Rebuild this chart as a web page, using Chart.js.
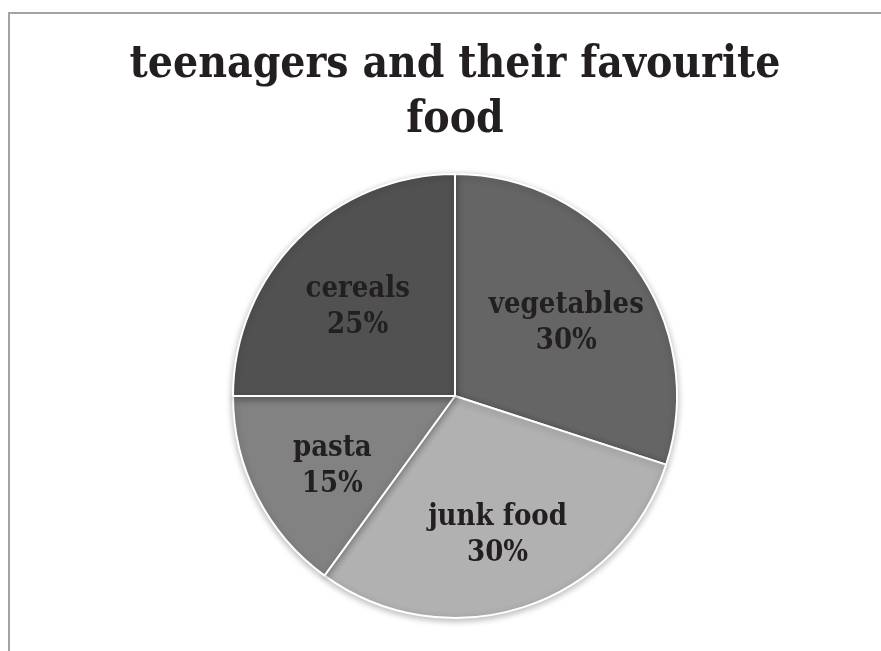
<!DOCTYPE html>
<html>
<head>
<meta charset="utf-8">
<script src="https://cdn.jsdelivr.net/npm/chart.js@4/dist/chart.umd.min.js"></script>
<style>
  html, body { margin: 0; padding: 0; background: #fff; }
  body { width: 881px; height: 651px; position: relative; overflow: hidden; }
  #frame {
    position: absolute; left: 8px; top: 12px; width: 900px; height: 700px;
    border-top: 2px solid #a3a3a3; border-left: 2px solid #a3a3a3;
  }
  #wrap { position: absolute; left: 0; top: 0; width: 881px; height: 651px; }
</style>
</head>
<body>
<div id="frame"></div>
<div id="wrap"><canvas id="pie"></canvas></div>
<script>
const foods = ['vegetables', 'junk food', 'pasta', 'cereals'];
const shares = [30, 30, 15, 25];
const sliceColors = ['#656565', '#b1b1b1', '#828282', '#515151'];

const textColor = '#231f20';
const serif = '"DejaVu Serif Condensed", "Liberation Serif", serif';

// soft drop shadow under the pie
const pieShadow = {
  id: 'pieShadow',
  beforeDatasetsDraw(chart) {
    const ctx = chart.ctx;
    ctx.save();
    ctx.shadowColor = 'rgba(0,0,0,0.28)';
    ctx.shadowBlur = 7;
    ctx.shadowOffsetY = 2;
  },
  afterDatasetsDraw(chart) {
    chart.ctx.restore();
  }
};

// name + percentage written inside each slice
const sliceLabels = {
  id: 'sliceLabels',
  afterDatasetsDraw(chart) {
    const ctx = chart.ctx;
    const meta = chart.getDatasetMeta(0);
    ctx.save();
    ctx.fillStyle = textColor;
    ctx.font = 'bold 29px ' + serif;
    ctx.textAlign = 'center';
    ctx.textBaseline = 'alphabetic';
    meta.data.forEach((arc, i) => {
      const p = arc.getProps(['x', 'y', 'startAngle', 'endAngle', 'outerRadius'], true);
      const mid = (p.startAngle + p.endAngle) / 2;
      const r = p.outerRadius * 0.62;
      const cx = p.x + Math.cos(mid) * r;
      const cy = p.y + Math.sin(mid) * r;
      ctx.fillText(foods[i], cx, cy - 2);
      ctx.fillText(chart.data.datasets[0].data[i] + '%', cx, cy + 34);
    });
    ctx.restore();
  }
};

new Chart(document.getElementById('pie'), {
  type: 'pie',
  data: {
    labels: foods,
    datasets: [{
      data: shares,
      backgroundColor: sliceColors,
      borderColor: '#ffffff',
      borderWidth: 2
    }]
  },
  options: {
    responsive: true,
    maintainAspectRatio: false,
    animation: false,
    radius: 222,
    layout: { padding: { left: 29, right: 0, top: 0, bottom: 17 } },
    plugins: {
      legend: { display: false },
      tooltip: { enabled: false },
      title: {
        display: true,
        text: ['teenagers and their favourite', 'food'],
        color: textColor,
        font: { family: serif, size: 44, weight: 'bold', lineHeight: 1.25 },
        padding: { top: 38, bottom: 10 }
      }
    }
  },
  plugins: [pieShadow, sliceLabels]
});
</script>
</body>
</html>
